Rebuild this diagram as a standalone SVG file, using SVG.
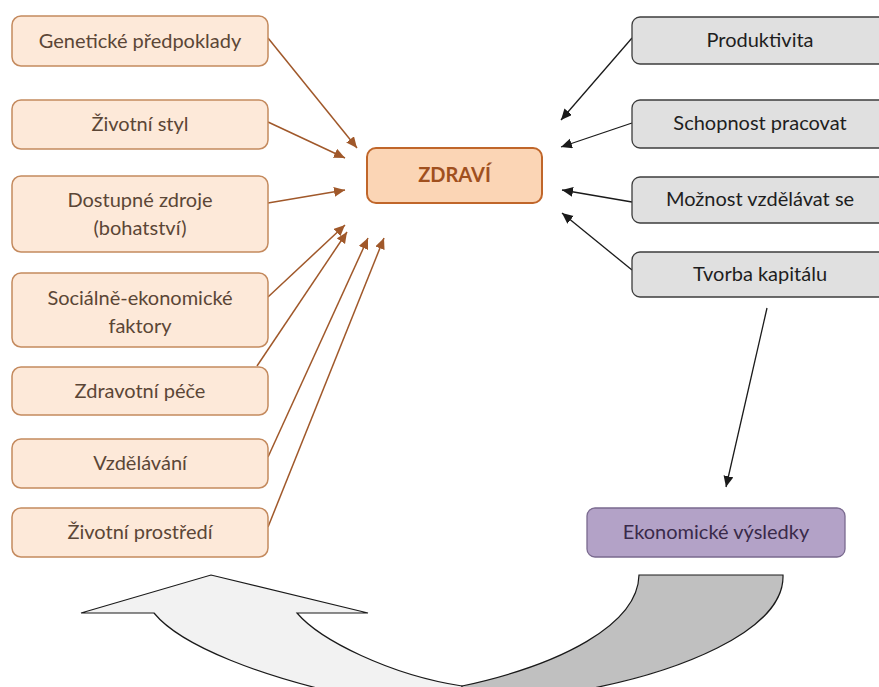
<svg xmlns="http://www.w3.org/2000/svg" width="879" height="687" viewBox="0 0 879 687">
<style>
.lb{fill:#fde9d9;stroke:#c48a5e;stroke-width:1.5}
.rb{fill:#e0e0e0;stroke:#3c3c3c;stroke-width:1.3}
.t{font-family:Lato,"Open Sans","Liberation Sans",sans-serif;font-size:20px;text-anchor:middle}
.lt{fill:#5b4636}
.rt{fill:#1e1e1e}
.ba{stroke:#a0582a;stroke-width:1.5;fill:none;marker-end:url(#mb)}
.ka{stroke:#1a1a1a;stroke-width:1.3;fill:none;marker-end:url(#mk)}
</style>
<defs>
<marker id="mb" markerUnits="userSpaceOnUse" markerWidth="14" markerHeight="12" refX="11" refY="5" orient="auto"><path d="M0,0 L11,5 L0,10 Z" fill="#a0582a"/></marker>
<marker id="mk" markerUnits="userSpaceOnUse" markerWidth="14" markerHeight="12" refX="11" refY="5" orient="auto"><path d="M0,0 L11,5 L0,10 Z" fill="#1a1a1a"/></marker>
</defs>
<rect width="879" height="687" fill="#ffffff"/>
<g id="curved-arrow">
<path d="M297,613 C320,640 390,675 462,686 L470,700 L370,700 C260,678 180,645 154,613 L81,613 L211,575 L368,613 Z" fill="#f2f2f2" stroke="#1a1a1a" stroke-width="1.2"/>
<path d="M639,575 L783,575 C785,630 680,675 560,694 L462,694 L462,686 C560,665 638,625 639,575 Z" fill="#c0c0c0" stroke="#1a1a1a" stroke-width="1.2"/>
</g>
<g id="connectors">
<line class="ba" x1="268" y1="38" x2="357" y2="148"/>
<line class="ba" x1="268" y1="122" x2="345" y2="158"/>
<line class="ba" x1="268" y1="203" x2="345" y2="190"/>
<line class="ba" x1="268" y1="297" x2="345" y2="225"/>
<line class="ba" x1="257" y1="366" x2="347" y2="232"/>
<line class="ba" x1="268" y1="457" x2="368" y2="238"/>
<line class="ba" x1="268" y1="527" x2="384" y2="238"/>
<line class="ka" x1="632" y1="38" x2="561" y2="120"/>
<line class="ka" x1="632" y1="123" x2="561" y2="147"/>
<line class="ka" x1="632" y1="202" x2="562" y2="190"/>
<line class="ka" x1="632" y1="270" x2="562" y2="213"/>
<line class="ka" x1="767" y1="308" x2="726" y2="487"/>
</g>
<g id="genetic"><rect class="lb" x="12" y="16" width="256" height="50" rx="9"/><text class="t lt" x="140" y="48">Genetické předpoklady</text></g>
<g id="lifestyle"><rect class="lb" x="12" y="100" width="256" height="49" rx="9"/><text class="t lt" x="140" y="131">Životní styl</text></g>
<g id="resources"><rect class="lb" x="12" y="176" width="256" height="76" rx="9"/><text class="t lt" x="140" y="207">Dostupné zdroje</text><text class="t lt" x="140" y="235">(bohatství)</text></g>
<g id="socioeconomic"><rect class="lb" x="12" y="273" width="256" height="74" rx="9"/><text class="t lt" x="140" y="305">Sociálně-ekonomické</text><text class="t lt" x="140" y="333">faktory</text></g>
<g id="healthcare"><rect class="lb" x="12" y="367" width="256" height="48" rx="9"/><text class="t lt" x="140" y="398">Zdravotní péče</text></g>
<g id="education"><rect class="lb" x="12" y="439" width="256" height="49" rx="9"/><text class="t lt" x="140" y="470">Vzdělávání</text></g>
<g id="environment"><rect class="lb" x="12" y="508" width="256" height="49" rx="9"/><text class="t lt" x="140" y="539">Životní prostředí</text></g>
<g id="health"><rect x="367" y="148" width="175" height="55" rx="9" fill="#fbd5b5" stroke="#c0662a" stroke-width="2"/><text class="t" x="454.5" y="182" font-size="19" font-weight="bold" fill="#a0501e">ZDRAVÍ</text></g>
<g id="productivity"><rect class="rb" x="632" y="17" width="256" height="47" rx="8"/><text class="t rt" x="760" y="47">Produktivita</text></g>
<g id="work-ability"><rect class="rb" x="632" y="100" width="256" height="48" rx="8"/><text class="t rt" x="760" y="130">Schopnost pracovat</text></g>
<g id="learning"><rect class="rb" x="632" y="177" width="256" height="46" rx="8"/><text class="t rt" x="760" y="206">Možnost vzdělávat se</text></g>
<g id="capital"><rect class="rb" x="632" y="252" width="256" height="45" rx="8"/><text class="t rt" x="760" y="281">Tvorba kapitálu</text></g>
<g id="economic"><rect x="587" y="508" width="258" height="49" rx="8" fill="#b3a2c7" stroke="#7a6a8f" stroke-width="1.3"/><text class="t" x="716" y="539" fill="#3a2a4a">Ekonomické výsledky</text></g>
</svg>
